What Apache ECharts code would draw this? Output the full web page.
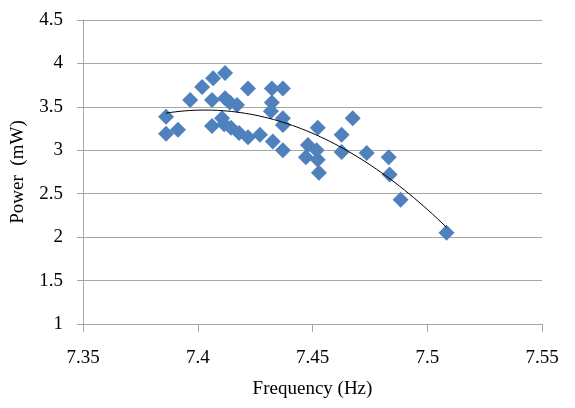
<!DOCTYPE html>
<html>
<head>
<meta charset="utf-8">
<script src="https://cdn.jsdelivr.net/npm/echarts@6/dist/echarts.min.js"></script>
<style>
  html, body { margin: 0; padding: 0; background: #fff; }
  #chart { width: 575px; height: 408px; }
</style>
</head>
<body>
<div id="chart"></div>
<script>
// Measured frequency (Hz) and power (mW) pairs
const frequency = [
  7.3862, 7.3862, 7.3914, 7.3967, 7.4019, 7.4067, 7.4119, 7.4062, 7.4119, 7.4140,
  7.4171, 7.4106, 7.4062, 7.4115, 7.4145, 7.4180, 7.4219, 7.4219, 7.4271, 7.4323,
  7.4371, 7.4323, 7.4319, 7.4371, 7.4371, 7.4327, 7.4371, 7.4523, 7.4480, 7.4518,
  7.4471, 7.4523, 7.4528, 7.4627, 7.4627, 7.4675, 7.4736, 7.4832, 7.4836, 7.4884,
  7.5084
];
const power = [
  3.385, 3.19, 3.235, 3.58, 3.73, 3.83, 3.89, 3.58, 3.60, 3.55,
  3.52, 3.37, 3.28, 3.30, 3.26, 3.20, 3.15, 3.71, 3.18, 3.71,
  3.71, 3.55, 3.45, 3.37, 3.29, 3.10, 3.00, 3.26, 3.06, 3.00,
  2.92, 2.89, 2.74, 3.18, 2.98, 3.37, 2.97, 2.92, 2.72, 2.43,
  2.05
];
const xTicks = { min: 7.35, max: 7.55, step: 0.05 };
const yTicks = { min: 1, max: 4.5, step: 0.5 };

// Second-order least-squares trendline through the measurements
function quadFit(xs, ys) {
  const x0 = xs.reduce((a, b) => a + b, 0) / xs.length;
  let S = [0, 0, 0, 0, 0], T = [0, 0, 0];
  xs.forEach((xv, i) => {
    const u = xv - x0;
    for (let k = 0; k < 5; k++) S[k] += Math.pow(u, k);
    for (let k = 0; k < 3; k++) T[k] += ys[i] * Math.pow(u, k);
  });
  const M = [[S[0], S[1], S[2], T[0]], [S[1], S[2], S[3], T[1]], [S[2], S[3], S[4], T[2]]];
  for (let c = 0; c < 3; c++) {
    for (let r = c + 1; r < 3; r++) {
      const f = M[r][c] / M[c][c];
      for (let k = c; k < 4; k++) M[r][k] -= f * M[c][k];
    }
  }
  const coef = [0, 0, 0];
  for (let r = 2; r >= 0; r--) {
    let s = M[r][3];
    for (let k = r + 1; k < 3; k++) s -= M[r][k] * coef[k];
    coef[r] = s / M[r][r];
  }
  return u => coef[0] + coef[1] * (u - x0) + coef[2] * (u - x0) * (u - x0);
}
const trend = quadFit(frequency, power);
const xLo = Math.min(...frequency), xHi = Math.max(...frequency);
const trendPts = [];
for (let i = 0; i <= 60; i++) {
  const xv = xLo + (xHi - xLo) * i / 60;
  trendPts.push([xv, trend(xv)]);
}

const font = '"Liberation Serif", "Times New Roman", serif';
const gray = '#a6a6a6';
const chart = echarts.init(document.getElementById('chart'), null, { renderer: 'canvas' });
chart.setOption({
  animation: false,
  backgroundColor: '#ffffff',
  grid: { left: 83, right: 33, top: 20, bottom: 84 },
  xAxis: {
    type: 'value',
    min: xTicks.min, max: xTicks.max, interval: xTicks.step,
    name: 'Frequency (Hz)', nameLocation: 'middle', nameGap: 56,
    nameTextStyle: { fontFamily: font, fontSize: 19, color: '#000' },
    axisLine: { show: true, lineStyle: { color: gray, width: 1 } },
    axisTick: { show: true, inside: false, length: 8, lineStyle: { color: gray } },
    axisLabel: { fontFamily: font, fontSize: 19, color: '#000', margin: 25,
      formatter: v => String(+v.toFixed(2)) },
    splitLine: { show: false }
  },
  yAxis: {
    type: 'value',
    min: yTicks.min, max: yTicks.max, interval: yTicks.step,
    name: 'Power  (mW)', nameLocation: 'middle', nameGap: 55, nameRotate: 90,
    nameTextStyle: { fontFamily: font, fontSize: 19, color: '#000' },
    axisLine: { show: true, lineStyle: { color: gray, width: 1 } },
    axisTick: { show: true, inside: false, length: 6, lineStyle: { color: gray } },
    axisLabel: { fontFamily: font, fontSize: 19, color: '#000', margin: 20,
      formatter: v => String(+v.toFixed(1)) },
    splitLine: { show: true, lineStyle: { color: gray, width: 1 } }
  },
  series: [
    {
      type: 'scatter',
      data: frequency.map((f, i) => [f, power[i]]),
      symbol: 'diamond',
      symbolSize: [16, 16],
      itemStyle: { color: '#4f81bd', opacity: 1 },
      z: 2
    },
    {
      type: 'line',
      data: trendPts,
      showSymbol: false,
      smooth: false,
      lineStyle: { color: '#000', width: 1 },
      z: 3,
      silent: true
    }
  ]
});
</script>
</body>
</html>
